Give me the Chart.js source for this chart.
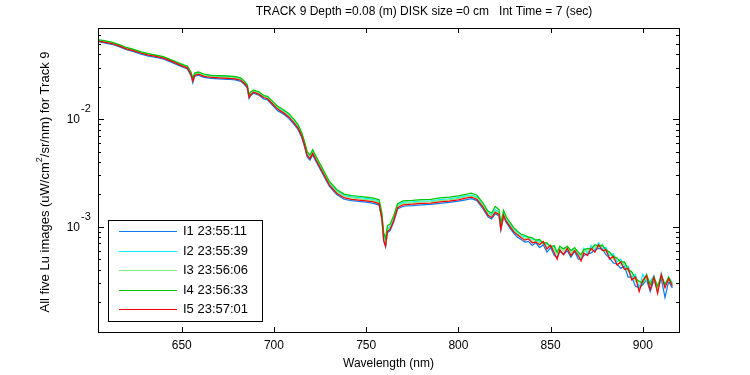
<!DOCTYPE html>
<html>
<head>
<meta charset="utf-8">
<script src="https://cdn.jsdelivr.net/npm/chart.js@4/dist/chart.umd.min.js"></script>
<style>
  body { margin: 0; background: #fff; }
  canvas { display: block; }
</style>
</head>
<body>
<canvas id="chart" width="750" height="375"></canvas>
<script>
// wavelength grid (nm), shared by the five images
const wavelength = [
  604, 608, 612, 616, 620, 624, 628, 632, 636, 640, 644, 648,
  651, 653, 655, 656, 657, 659, 662, 666, 670, 675, 679, 682, 684,
  685.5, 686.5, 687.5, 689, 692, 694.5, 696.5, 699, 702, 705, 708, 711, 713, 715, 716.5, 718, 719.5,
  721, 723, 726, 730, 734, 738, 742, 746, 750, 754, 757,
  758.5, 759.5, 760.5, 761.5, 763, 765, 767, 770, 775, 780, 785, 790, 795, 800, 804, 807, 810,
  813, 816, 818, 820, 822, 823, 824.5, 826, 828, 830,
  832, 834, 836, 838, 840, 842, 844, 846, 848, 850, 852, 853.5, 855, 857, 859, 861, 863, 865,
  866.5, 868, 870, 872, 874, 876, 878, 880, 882, 884, 886, 888, 890, 892, 894, 896, 898, 900,
  902, 904, 906, 908, 910, 912, 914, 916
];

// Lu, uW/cm^2/sr/nm
const lu1 = [
  528e-4, 512e-4, 497e-4, 472e-4, 442e-4, 424e-4, 402e-4, 386e-4, 376e-4, 363e-4, 341e-4, 318e-4,
  302e-4, 294e-4, 254e-4, 218e-4, 250e-4, 257e-4, 245e-4, 239e-4, 237e-4, 235e-4, 232e-4, 225e-4, 210e-4,
  195e-4, 156e-4, 166e-4, 174e-4, 166e-4, 154e-4, 151e-4, 136e-4, 120e-4, 112e-4, 102e-4, 89e-4, 80.5e-4, 68e-4, 56e-4, 44.6e-4, 41.5e-4,
  46.5e-4, 39.7e-4, 32e-4, 23.8e-4, 19.9e-4, 18.0e-4, 17.5e-4, 17.2e-4, 16.9e-4, 16.5e-4, 15.9e-4,
  11.7e-4, 7.4e-4, 6.5e-4, 8.8e-4, 9.2e-4, 11.2e-4, 14.6e-4, 15.5e-4, 15.7e-4, 16.0e-4, 16.1e-4, 16.5e-4, 16.8e-4, 17.3e-4, 17.8e-4, 18.2e-4, 17.5e-4,
  15.0e-4, 12.4e-4, 11.8e-4, 13.2e-4, 12.6e-4, 9.3e-4, 12.4e-4, 10.9e-4, 9.7e-4, 8.7e-4,
  8.0e-4, 7.6e-4, 7.2e-4, 7.3e-4, 6.7e-4, 7.1e-4, 6.4e-4, 6.8e-4, 5.8e-4, 6.4e-4, 5.4e-4, 5.2e-4, 5.9e-4, 5.5e-4, 6.0e-4, 5.2e-4, 5.9e-4, 5.0e-4,
  5.0e-4, 5.4e-4, 5.6e-4, 5.7e-4, 6.1e-4, 6.3e-4, 6.2e-4, 5.5e-4, 5.1e-4, 4.6e-4, 4.5e-4, 4.1e-4, 4.3e-4, 3.4e-4, 3.4e-4, 2.8e-4, 2.7e-4, 2.9e-4,
  3.2e-4, 2.5e-4, 3.2e-4, 2.6e-4, 3.3e-4, 2.2e-4, 3.1e-4, 2.7e-4
];
const lu2 = [
  546e-4, 530e-4, 515e-4, 490e-4, 459e-4, 441e-4, 418e-4, 402e-4, 391e-4, 377e-4, 355e-4, 332e-4,
  316e-4, 308e-4, 270e-4, 233e-4, 263e-4, 271e-4, 259e-4, 253e-4, 250e-4, 248e-4, 245e-4, 238e-4, 222e-4,
  207e-4, 166e-4, 176e-4, 184e-4, 176e-4, 164e-4, 161e-4, 145e-4, 129e-4, 120e-4, 110e-4, 96e-4, 87e-4, 73.5e-4, 61e-4, 48.5e-4, 45e-4,
  50.5e-4, 43e-4, 34.6e-4, 25.7e-4, 21.5e-4, 19.5e-4, 18.9e-4, 18.6e-4, 18.3e-4, 17.9e-4, 17.2e-4,
  12.8e-4, 8.2e-4, 7.2e-4, 9.6e-4, 10.1e-4, 12.2e-4, 15.8e-4, 16.8e-4, 17.0e-4, 17.3e-4, 17.4e-4, 17.9e-4, 18.2e-4, 18.7e-4, 19.3e-4, 19.7e-4, 18.9e-4,
  16.3e-4, 13.5e-4, 12.9e-4, 14.4e-4, 13.7e-4, 10.2e-4, 13.5e-4, 11.8e-4, 10.5e-4, 9.5e-4,
  8.9e-4, 8.2e-4, 8.1e-4, 7.9e-4, 7.7e-4, 7.5e-4, 7.3e-4, 7.1e-4, 6.9e-4, 6.6e-4, 6.5e-4, 5.6e-4, 6.3e-4, 6.3e-4, 6.4e-4, 6.0e-4, 6.1e-4, 5.8e-4,
  5.1e-4, 6.3e-4, 5.7e-4, 6.7e-4, 6.1e-4, 7.1e-4, 6.3e-4, 6.4e-4, 5.4e-4, 5.6e-4, 4.7e-4, 5.0e-4, 4.3e-4, 4.3e-4, 3.4e-4, 3.6e-4, 2.7e-4, 3.6e-4,
  3.1e-4, 3.1e-4, 3.5e-4, 2.5e-4, 3.7e-4, 2.8e-4, 3.4e-4, 3.0e-4
];
const lu3 = [
  540e-4, 525e-4, 510e-4, 485e-4, 455e-4, 436e-4, 414e-4, 398e-4, 387e-4, 374e-4, 351e-4, 328e-4,
  312e-4, 304e-4, 266e-4, 230e-4, 259e-4, 267e-4, 255e-4, 249e-4, 247e-4, 245e-4, 242e-4, 235e-4, 219e-4,
  204e-4, 163e-4, 174e-4, 182e-4, 173e-4, 161e-4, 158e-4, 143e-4, 127e-4, 118e-4, 108e-4, 94.5e-4, 85.5e-4, 72e-4, 60e-4, 47.5e-4, 44.3e-4,
  49.5e-4, 42.3e-4, 34e-4, 25.2e-4, 21.1e-4, 19.2e-4, 18.5e-4, 18.2e-4, 17.9e-4, 17.5e-4, 16.9e-4,
  12.5e-4, 7.9e-4, 6.9e-4, 9.3e-4, 9.8e-4, 11.9e-4, 15.5e-4, 16.5e-4, 16.7e-4, 17.0e-4, 17.1e-4, 17.5e-4, 17.8e-4, 18.3e-4, 18.9e-4, 19.3e-4, 18.5e-4,
  16.0e-4, 13.2e-4, 12.6e-4, 14.0e-4, 13.4e-4, 9.9e-4, 13.2e-4, 11.5e-4, 10.3e-4, 9.3e-4,
  8.6e-4, 8.2e-4, 7.7e-4, 8.0e-4, 7.3e-4, 7.4e-4, 7.0e-4, 7.2e-4, 6.5e-4, 6.7e-4, 6.1e-4, 5.5e-4, 6.4e-4, 5.9e-4, 6.5e-4, 5.7e-4, 6.2e-4, 5.5e-4,
  5.2e-4, 5.9e-4, 6.1e-4, 6.0e-4, 6.6e-4, 6.4e-4, 6.9e-4, 5.8e-4, 5.8e-4, 5.0e-4, 5.2e-4, 4.4e-4, 4.7e-4, 3.8e-4, 3.8e-4, 3.1e-4, 3.1e-4, 3.1e-4,
  3.3e-4, 2.9e-4, 3.2e-4, 2.7e-4, 3.4e-4, 3.0e-4, 3.1e-4, 3.1e-4
];
const lu4 = [
  551e-4, 536e-4, 520e-4, 494e-4, 464e-4, 445e-4, 422e-4, 406e-4, 394e-4, 381e-4, 358e-4, 335e-4,
  320e-4, 312e-4, 275e-4, 240e-4, 268e-4, 275e-4, 263e-4, 256e-4, 254e-4, 252e-4, 249e-4, 242e-4, 226e-4,
  210e-4, 170e-4, 180e-4, 187e-4, 179e-4, 166e-4, 163e-4, 148e-4, 132e-4, 123e-4, 113e-4, 99e-4, 89.5e-4, 75.5e-4, 62.5e-4, 50e-4, 46.5e-4,
  52e-4, 44.5e-4, 35.6e-4, 26.5e-4, 22.2e-4, 20.1e-4, 19.5e-4, 19.2e-4, 18.8e-4, 18.4e-4, 17.8e-4,
  13.5e-4, 8.8e-4, 7.8e-4, 10.2e-4, 10.6e-4, 12.8e-4, 16.4e-4, 17.4e-4, 17.6e-4, 17.9e-4, 18.0e-4, 18.5e-4, 18.8e-4, 19.4e-4, 20.0e-4, 20.5e-4, 19.6e-4,
  16.9e-4, 14.0e-4, 13.4e-4, 15.4e-4, 14.4e-4, 10.8e-4, 14.2e-4, 12.3e-4, 11.0e-4, 9.8e-4,
  9.1e-4, 8.5e-4, 8.3e-4, 8.0e-4, 7.9e-4, 7.5e-4, 7.6e-4, 7.0e-4, 7.1e-4, 6.5e-4, 6.7e-4, 5.8e-4, 6.6e-4, 6.2e-4, 6.6e-4, 6.0e-4, 6.4e-4, 5.8e-4,
  5.5e-4, 6.1e-4, 6.3e-4, 6.2e-4, 6.8e-4, 6.6e-4, 6.7e-4, 6.1e-4, 5.8e-4, 5.3e-4, 5.1e-4, 4.7e-4, 4.7e-4, 4.0e-4, 3.8e-4, 3.3e-4, 3.1e-4, 3.0e-4,
  3.6e-4, 2.9e-4, 3.4e-4, 2.8e-4, 3.5e-4, 2.9e-4, 3.4e-4, 2.9e-4
];
const lu5 = [
  535e-4, 520e-4, 505e-4, 480e-4, 450e-4, 432e-4, 410e-4, 394e-4, 383e-4, 370e-4, 348e-4, 325e-4,
  308e-4, 300e-4, 262e-4, 226e-4, 255e-4, 262e-4, 250e-4, 244e-4, 242e-4, 240e-4, 237e-4, 230e-4, 215e-4,
  200e-4, 160e-4, 170e-4, 178e-4, 170e-4, 158e-4, 155e-4, 140e-4, 124e-4, 115e-4, 105e-4, 92e-4, 83e-4, 70e-4, 58e-4, 46e-4, 43e-4,
  48e-4, 41e-4, 33e-4, 24.5e-4, 20.5e-4, 18.6e-4, 18.0e-4, 17.7e-4, 17.4e-4, 17.0e-4, 16.4e-4,
  12.0e-4, 7.5e-4, 6.6e-4, 9.0e-4, 9.5e-4, 11.5e-4, 15.0e-4, 16.0e-4, 16.2e-4, 16.5e-4, 16.6e-4, 17.0e-4, 17.3e-4, 17.8e-4, 18.4e-4, 18.8e-4, 18.0e-4,
  15.5e-4, 12.8e-4, 12.2e-4, 13.6e-4, 13.0e-4, 9.5e-4, 12.8e-4, 11.2e-4, 10.0e-4, 9.0e-4,
  8.4e-4, 7.9e-4, 7.5e-4, 7.7e-4, 7.1e-4, 7.2e-4, 6.8e-4, 7.3e-4, 6.2e-4, 6.7e-4, 5.7e-4, 5.0e-4, 6.1e-4, 5.5e-4, 6.3e-4, 5.4e-4, 6.0e-4, 5.4e-4,
  4.8e-4, 5.7e-4, 5.4e-4, 6.3e-4, 5.8e-4, 6.8e-4, 6.0e-4, 6.1e-4, 5.0e-4, 5.3e-4, 4.4e-4, 4.7e-4, 4.0e-4, 4.1e-4, 3.2e-4, 3.4e-4, 2.5e-4, 3.2e-4,
  3.5e-4, 2.6e-4, 3.4e-4, 2.4e-4, 3.6e-4, 2.7e-4, 3.3e-4, 2.8e-4
];

const seriesNames = ['I1 23:55:11', 'I2 23:55:39', 'I3 23:56:06', 'I4 23:56:33', 'I5 23:57:01'];
const seriesColors = ['#0a7cf0', '#00f0ff', '#80f080', '#00c800', '#ff0000'];
const seriesValues = [lu1, lu2, lu3, lu4, lu5];

const xTicks = [650, 700, 750, 800, 850, 900];
const yTickExps = [-2, -3];

const titleText = 'TRACK 9 Depth =0.08 (m) DISK size =0 cm   Int Time = 7 (sec)';
const xTitle = 'Wavelength (nm)';

const FONT = "'Liberation Sans', Arial, sans-serif";

// box, inward ticks, labels and legend, matlab style
const framePlugin = {
  id: 'frame',
  beforeDraw(chart) {
    const c = chart.ctx;
    c.save();
    c.fillStyle = '#fff';
    c.fillRect(0, 0, chart.width, chart.height);
    c.restore();
  },
  afterDatasetsDraw(chart) {
    const c = chart.ctx;
    const a = chart.chartArea;
    const xs = chart.scales.x, ys = chart.scales.y;
    c.save();
    c.strokeStyle = '#000';
    c.lineWidth = 1;
    c.strokeRect(a.left + 0.5, a.top + 0.5, a.right - a.left, a.bottom - a.top);

    c.beginPath();
    xTicks.forEach(v => {
      const px = Math.round(xs.getPixelForValue(v)) + 0.5;
      c.moveTo(px, a.bottom); c.lineTo(px, a.bottom - 5);
      c.moveTo(px, a.top); c.lineTo(px, a.top + 5);
    });
    for (let k = -4; k <= -2; k++) {
      for (let m = 1; m <= 9; m++) {
        const v = m * Math.pow(10, k);
        if (v < ys.min || v > ys.max) continue;
        const py = Math.round(ys.getPixelForValue(v)) + 0.5;
        const len = m === 1 ? 6 : 3;
        c.moveTo(a.left, py); c.lineTo(a.left + len, py);
        c.moveTo(a.right, py); c.lineTo(a.right - len, py);
      }
    }
    c.stroke();

    // tick labels
    c.fillStyle = '#000';
    c.font = '12px ' + FONT;
    c.textAlign = 'center';
    c.textBaseline = 'middle';
    xTicks.forEach(v => c.fillText(String(v), xs.getPixelForValue(v), 346));
    yTickExps.forEach(e => {
      const py = ys.getPixelForValue(Math.pow(10, e));
      c.font = '12px ' + FONT;
      c.textAlign = 'right';
      c.fillText('10', 80, py + 1);
      c.font = '11px ' + FONT;
      c.textAlign = 'left';
      c.fillText(String(e), 81, py - 10);
    });

    // titles
    c.font = '12px ' + FONT;
    c.textAlign = 'center';
    const cx = (a.left + a.right) / 2;
    c.fillText(titleText, 424, 12);
    c.fillText(xTitle, cx, 364);

    // y title with superscript, rotated
    const p1 = 'All five Lu images (uW/cm', p2 = '2', p3 = '/sr/nm) for Track 9';
    c.font = '13px ' + FONT;
    const w1 = c.measureText(p1).width, w3 = c.measureText(p3).width;
    c.font = '9px ' + FONT;
    const w2 = c.measureText(p2).width;
    c.save();
    c.translate(45, 182);
    c.rotate(-Math.PI / 2);
    c.textAlign = 'left';
    let x0 = -(w1 + w2 + w3) / 2;
    c.font = '13px ' + FONT;
    c.fillText(p1, x0, 0);
    c.font = '9px ' + FONT;
    c.fillText(p2, x0 + w1, -5);
    c.font = '13px ' + FONT;
    c.fillText(p3, x0 + w1 + w2, 0);
    c.restore();

    // legend
    const lx = 108.5, ly = 220.5, lw = 154, lh = 101;
    c.fillStyle = '#fff';
    c.fillRect(lx, ly, lw, lh);
    c.strokeStyle = '#000';
    c.strokeRect(lx, ly, lw, lh);
    seriesNames.forEach((name, i) => {
      const yy = Math.round(231 + i * 19.5) + 0.5;
      c.strokeStyle = seriesColors[i];
      c.beginPath();
      c.moveTo(119, yy); c.lineTo(177, yy);
      c.stroke();
      c.fillStyle = '#000';
      c.font = '13px ' + FONT;
      c.textAlign = 'left';
      c.fillText(name, 183, yy);
    });
    c.restore();
  }
};

new Chart(document.getElementById('chart'), {
  type: 'line',
  data: {
    datasets: seriesValues.map((vals, i) => ({
      label: seriesNames[i],
      data: wavelength.map((w, j) => ({ x: w, y: vals[j] })),
      borderColor: seriesColors[i],
      borderWidth: 1.25,
      pointRadius: 0,
      tension: 0,
      fill: false,
      order: 5 - i   // I5 drawn last, on top
    }))
  },
  options: {
    responsive: false,
    animation: false,
    layout: { padding: { left: 98, right: 71, top: 28, bottom: 43 } },
    scales: {
      x: { type: 'linear', min: 604.6, max: 919.6, display: false },
      y: { type: 'logarithmic', min: 1.05e-4, max: 0.0704, display: false }
    },
    plugins: {
      legend: { display: false },
      tooltip: { enabled: false }
    }
  },
  plugins: [framePlugin]
});
</script>
</body>
</html>
